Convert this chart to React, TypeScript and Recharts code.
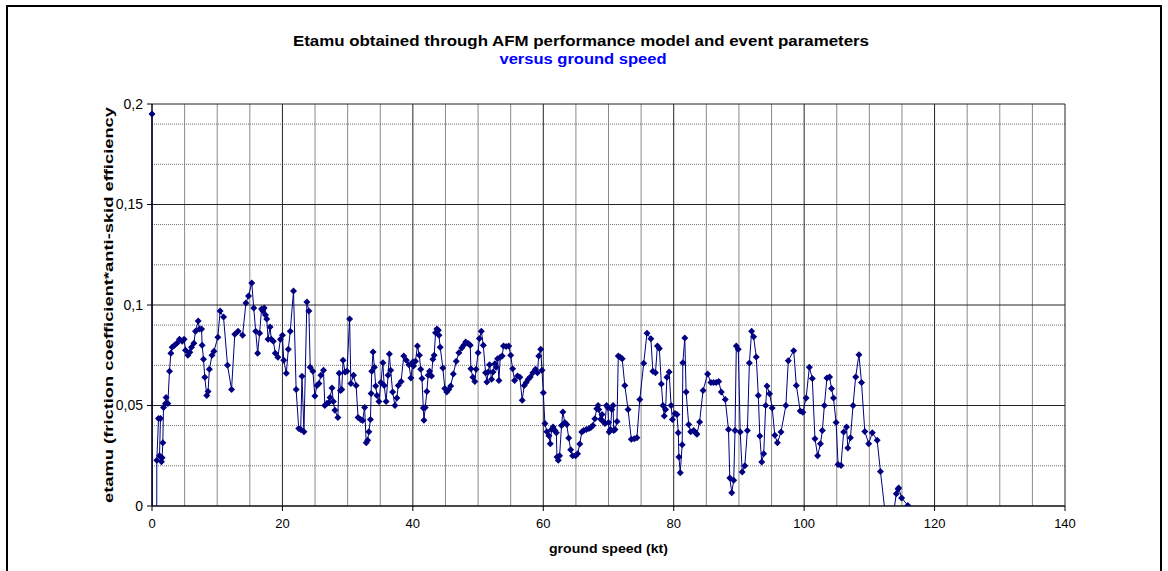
import React from 'react';
import { LineChart, Line, XAxis, YAxis, CartesianGrid } from 'recharts';

// ground speed (kt), in recording order
const speed = [
  0, 0.05, 0.7, 0.74, 1.0, 1.3, 1.15, 1.45, 1.55, 1.66, 1.76, 2.07, 2.17, 2.43, 2.68, 2.89, 3.09, 3.45, 3.81, 4.22,
  4.63, 4.93, 5.14, 5.5, 5.8, 6.06, 6.42, 6.67, 7.08, 7.29, 7.6, 7.69, 7.9, 8.1, 8.4, 8.6, 8.8, 9.2, 9.5, 10.1,
  10.45, 10.97, 11.58, 12.2, 12.7, 13.2, 13.9, 14.4, 14.8, 15.3, 15.6, 15.9, 16.2, 16.5, 16.8, 17.0, 17.2, 17.4, 17.6, 17.8,
  18.1, 18.3, 18.6, 18.9, 19.3, 19.7, 20.0, 20.2,
  20.6, 20.9, 21.2, 21.7, 22.1, 22.5, 22.8, 23.0, 23.3, 23.75, 24.06, 24.26, 24.67, 24.98, 25.3, 25.6, 25.9, 26.3, 26.5, 26.8,
  27.1, 27.3, 27.6, 27.8, 28.05, 28.5, 28.7, 28.9, 29.1, 29.3, 29.6, 29.9, 30.3, 30.5, 30.9, 31.3, 31.6, 32.0, 32.3, 32.6,
  32.85, 33.06, 33.26, 33.5, 33.6, 33.7, 33.9, 34.1, 34.3, 34.5, 34.8, 35.1, 35.4, 35.6, 35.9, 36.2, 36.4, 36.6, 36.9, 37.25,
  37.55, 37.76, 38.2, 38.6, 39.0, 39.4, 39.7, 40.0,
  40.1, 40.4, 40.7, 41.0, 41.2, 41.4, 41.6, 41.7, 41.9, 42.15, 42.35, 42.56, 42.86, 43.07, 43.27, 43.48, 43.68, 43.9, 44.0, 44.19,
  44.6, 44.9, 45.2, 45.5, 45.8, 46.2, 46.65, 47.06, 47.5, 47.8, 48.1, 48.5, 48.8, 48.9, 49.2, 49.5, 49.7, 50.0, 50.2, 50.5,
  50.8, 51.15, 51.35, 51.55, 51.76, 52.07, 52.3, 52.58, 52.78, 52.99, 53.2, 53.4, 53.7, 53.9, 54.3, 54.7, 55.0, 55.3, 55.6, 56.05,
  56.4, 56.77, 57.08, 57.38, 57.69, 58.0, 58.4, 58.8, 59.1, 59.3, 59.6, 59.8, 60.0,
  60.25, 60.55, 60.86, 61.07, 61.27, 61.5, 61.8, 62.0, 62.1, 62.3, 62.5, 62.8, 63.0, 63.3, 63.6, 63.9, 64.2, 64.5, 64.95, 65.26,
  65.6, 65.9, 66.2, 66.6, 67.0, 67.3, 67.6, 67.9, 68.2, 68.4, 68.5, 68.8, 69.0, 69.2, 69.45, 69.7, 69.9, 70.0, 70.1, 70.3,
  70.5, 70.7, 70.8, 71.0, 71.3, 71.5, 71.8, 72.1, 72.5, 73.0, 73.5, 73.95, 74.36, 74.8, 75.4, 75.9, 76.5, 76.8, 77.2, 77.5,
  77.8, 78.1, 78.35, 78.55, 78.75, 78.96, 79.3, 79.6, 79.8,
  80.2, 80.5, 80.7, 80.8, 81.0, 81.3, 81.4, 81.7, 81.9, 82.3, 82.6, 83.05, 83.36, 83.56, 83.97, 84.5, 85.2, 85.7, 86.1, 86.5,
  86.9, 87.3, 87.9, 88.4, 88.6, 88.9, 89.2, 89.4, 89.6, 89.9, 90.2, 90.5, 90.9, 91.3, 91.6, 91.95, 92.25, 92.66, 92.97, 93.2,
  93.5, 93.8, 94.1, 94.3, 94.7, 95.1, 95.5, 95.9, 96.45, 97.2, 97.57, 98.4, 98.8, 99.4, 99.8,
  100.3, 100.8, 101.25, 101.66, 102.07, 102.5, 102.8, 103.1, 103.5, 103.9, 104.2, 104.5, 104.9, 105.2, 105.65, 106.06, 106.5, 106.7, 107.1, 107.5,
  107.9, 108.4, 108.8, 109.3, 109.9, 110.45, 111.2, 111.7, 113.0, 114.13, 114.4, 114.5, 114.95, 115.9,
];

// etamu (friction coefficient * anti-skid efficiency)
const etamu = [
  0.195, -0.05, -0.05, 0.0228, 0.0435, 0.0435, 0.025, 0.022, 0.024, 0.0315, 0.049, 0.051, 0.054, 0.051, 0.067, 0.076, 0.079, 0.08, 0.081, 0.083,
  0.082, 0.083, 0.0775, 0.075, 0.0765, 0.079, 0.081, 0.087, 0.092, 0.088, 0.088, 0.08, 0.073, 0.064, 0.055, 0.057, 0.068, 0.075, 0.077, 0.084,
  0.097, 0.094, 0.07, 0.058, 0.0855, 0.087, 0.085, 0.101, 0.1045, 0.111, 0.0985, 0.087, 0.076, 0.086, 0.098, 0.097, 0.0985, 0.095, 0.093, 0.083,
  0.089, 0.083, 0.082, 0.076, 0.074, 0.083, 0.085, 0.0725,
  0.066, 0.078, 0.087, 0.107, 0.058, 0.0385, 0.038, 0.0645, 0.037, 0.1015, 0.097, 0.069, 0.067, 0.0547, 0.06, 0.061, 0.065, 0.0675, 0.05, 0.051,
  0.0515, 0.054, 0.0587, 0.052, 0.0476, 0.044, 0.066, 0.0575, 0.058, 0.0725, 0.0667, 0.067, 0.093, 0.061, 0.065, 0.06, 0.044, 0.043, 0.0425, 0.049,
  0.0315, 0.0327, 0.037, 0.043, 0.056, 0.067, 0.0766, 0.069, 0.0597, 0.055, 0.052, 0.0614, 0.0713, 0.06, 0.052, 0.065, 0.0756, 0.0675, 0.0567, 0.05,
  0.0537, 0.06, 0.062, 0.0746, 0.0725, 0.0703, 0.0637, 0.0716,
  0.0697, 0.072, 0.0796, 0.075, 0.068, 0.0634, 0.0488, 0.0426, 0.049, 0.057, 0.065, 0.067, 0.0647, 0.073, 0.075, 0.0862, 0.088, 0.0875, 0.085, 0.079,
  0.0687, 0.0584, 0.0567, 0.058, 0.0597, 0.0657, 0.072, 0.0763, 0.0786, 0.08, 0.0816, 0.0808, 0.08, 0.0683, 0.064, 0.062, 0.068, 0.0763, 0.0833, 0.0869,
  0.08, 0.0663, 0.0617, 0.0667, 0.0703, 0.063, 0.0667, 0.0708, 0.069, 0.0733, 0.0625, 0.074, 0.0746, 0.0796, 0.0793, 0.0796, 0.075, 0.0683, 0.0625, 0.0647,
  0.064, 0.0526, 0.06, 0.0614, 0.063, 0.0642, 0.0663, 0.068, 0.0663, 0.0746, 0.078, 0.0675, 0.0564,
  0.041, 0.037, 0.035, 0.031, 0.038, 0.0393, 0.0376, 0.0365, 0.0244, 0.0227, 0.025, 0.04, 0.0468, 0.0415, 0.0405, 0.0338, 0.028, 0.025, 0.025, 0.026,
  0.0308, 0.0368, 0.0376, 0.038, 0.0385, 0.039, 0.04, 0.0434, 0.0484, 0.05, 0.048, 0.0431, 0.0455, 0.042, 0.041, 0.05, 0.049, 0.0415, 0.0368, 0.038,
  0.048, 0.05, 0.0376, 0.038, 0.042, 0.0746, 0.074, 0.0733, 0.06, 0.048, 0.0332, 0.0335, 0.034, 0.053, 0.071, 0.086, 0.0832, 0.067, 0.0663, 0.0796,
  0.0783, 0.0607, 0.05, 0.0448, 0.048, 0.064, 0.0667, 0.05, 0.043,
  0.046, 0.0455, 0.0365, 0.0244, 0.0166, 0.0305, 0.0713, 0.0836, 0.0567, 0.0405, 0.037, 0.0376, 0.0365, 0.0357, 0.0418, 0.0575, 0.0657, 0.0614, 0.0614, 0.0614,
  0.062, 0.0567, 0.053, 0.038, 0.0139, 0.0066, 0.0128, 0.0376, 0.0796, 0.078, 0.0368, 0.0169, 0.02, 0.0376, 0.0711, 0.0869, 0.0842, 0.0741, 0.055, 0.0348,
  0.0219, 0.026, 0.05, 0.0597, 0.0559, 0.0488, 0.0352, 0.0315, 0.0368, 0.05, 0.0723, 0.0773, 0.06, 0.0473, 0.0466,
  0.0537, 0.069, 0.0634, 0.0335, 0.025, 0.031, 0.0376, 0.05, 0.0637, 0.0642, 0.0584, 0.0537, 0.0415, 0.0207, 0.0202, 0.0368, 0.0393, 0.0289, 0.034, 0.05,
  0.0642, 0.0753, 0.0614, 0.0371, 0.031, 0.0365, 0.0327, 0.0172, -0.02, 0.0061, 0.0085, 0.009, 0.004, 0.0003,
];

const xTicks = [0, 20, 40, 60, 80, 100, 120, 140];
const yTicks = [0, 0.05, 0.1, 0.15, 0.2];
const xMinor = [5, 10, 15, 25, 30, 35, 45, 50, 55, 65, 70, 75, 85, 90, 95, 105, 110, 115, 125, 130, 135];
const yMinor = [0.01, 0.02, 0.03, 0.04, 0.06, 0.07, 0.08, 0.09, 0.11, 0.12, 0.13, 0.14, 0.16, 0.17, 0.18, 0.19];

const data = speed.map((s, i) => ({ speed: s, etamu: etamu[i] }));

const NAVY = '#000080';
const FONT = '"Liberation Sans", Arial, sans-serif';

const Diamond = (props: any) => {
  const { cx, cy, payload, index } = props;
  if (cx == null || cy == null || payload.etamu < 0) return <g key={index} />;
  const r = 3.5;
  return (
    <path
      key={index}
      d={`M${cx},${cy - r}L${cx + r},${cy}L${cx},${cy + r}L${cx - r},${cy}Z`}
      fill={NAVY}
      stroke="none"
    />
  );
};

export default function App() {
  return (
    <div style={{ position: 'absolute', left: 0, top: 0, width: 1168, height: 571, overflow: 'hidden', background: '#fff' }}>
      <div style={{ position: 'absolute', left: 6, top: 5, width: 1152, height: 620, border: '2px solid #000' }} />
      <div style={{ position: 'absolute', left: 0, top: 0 }}>
        <LineChart width={1168} height={571} data={data} margin={{ top: 104, right: 103, bottom: 0, left: 0 }}>
          <CartesianGrid verticalValues={xMinor} horizontal={false} stroke="#8a8a8a" />
          <CartesianGrid horizontalValues={yMinor} vertical={false} stroke="#6e6e6e" strokeDasharray="1 1" />
          <CartesianGrid verticalValues={xTicks} horizontalValues={yTicks} stroke="#222" />
          <XAxis
            dataKey="speed"
            type="number"
            domain={[0, 140]}
            ticks={xTicks}
            height={65}
            tickSize={5}
            tickMargin={8}
            stroke="#000"
            tick={{ fill: '#000', fontSize: 13, fontFamily: FONT }}
          />
          <YAxis
            type="number"
            domain={[0, 0.2]}
            ticks={yTicks}
            allowDataOverflow
            width={152}
            tickSize={5}
            tickMargin={4}
            stroke="#000"
            tickFormatter={(v: number) => String(v).replace('.', ',')}
            tick={{ fill: '#000', fontSize: 14, fontFamily: FONT }}
          />
          <Line
            type="linear"
            dataKey="etamu"
            stroke={NAVY}
            strokeWidth={1}
            dot={Diamond}
            activeDot={false}
            isAnimationActive={false}
          />
        </LineChart>
      </div>
      <svg width={1168} height={571} style={{ position: 'absolute', left: 0, top: 0, pointerEvents: 'none' }}>
        <text x={581} y={46} textAnchor="middle" fontFamily={FONT} fontWeight="bold" fontSize={14} fill="#000"
          textLength={576} lengthAdjust="spacingAndGlyphs">
          Etamu obtained through AFM performance model and event parameters
        </text>
        <text x={583} y={64} textAnchor="middle" fontFamily={FONT} fontWeight="bold" fontSize={14} fill="#0000ff"
          textLength={167} lengthAdjust="spacingAndGlyphs">
          versus ground speed
        </text>
        <text x={608.5} y={553} textAnchor="middle" fontFamily={FONT} fontWeight="bold" fontSize={13} fill="#000"
          textLength={119} lengthAdjust="spacingAndGlyphs">
          ground speed (kt)
        </text>
        <text transform="translate(113,305) rotate(-90)" textAnchor="middle" fontFamily={FONT} fontWeight="bold"
          fontSize={12} fill="#000" textLength={396} lengthAdjust="spacingAndGlyphs">
          etamu (friction coefficient*anti-skid efficiency
        </text>
      </svg>
    </div>
  );
}
